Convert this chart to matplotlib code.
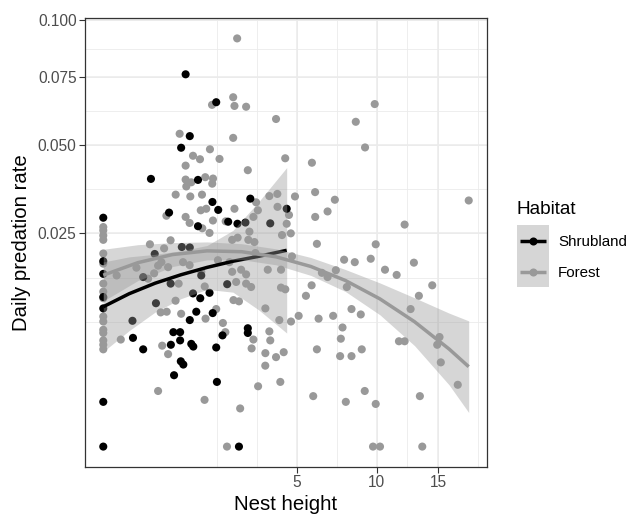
import numpy as np
import matplotlib
matplotlib.use("Agg")
import matplotlib.pyplot as plt
from matplotlib.lines import Line2D
from matplotlib.patches import Rectangle

plt.rcParams['font.family'] = ['Liberation Sans', 'DejaVu Sans']

# ---------------- data ----------------
shrub_x = [0.907, 1.706, 1.001, 0.811, 0.304, 1.200, 1.594, 1.767, 0.579, 2.892, 4.500, 0, 1.200,
           2.087, 2.408, 2.703, 3.729, 0.354, 0.825, 1.001, 0, 0, 0, 0, 0.213, 0.371, 0.607, 1.077,
           1.258, 1.284, 1.510, 2.054, 1.157, 1.602, 1.001, 0.114, 0.118, 0.213, 0.657, 0.790, 0.790,
           0.611, 1.036, 1.084, 0.804, 0.857, 0.670, 1.706, 1.727, 1.901, 2.794, 2.794, 0, 0, 2.462]
shrub_y = [0.0762, 0.0652, 0.0530, 0.0491, 0.0394, 0.0391, 0.0329, 0.0308, 0.0301, 0.0338, 0.0311,
           0.0288, 0.0267, 0.0278, 0.0273, 0.0276, 0.0274, 0.0204, 0.0219, 0.0218, 0.0189, 0.0164,
           0.0123, 0.0105, 0.0158, 0.0113, 0.0146, 0.0129, 0.0121, 0.0161, 0.0130, 0.0145, 0.0100,
           0.0098, 0.0088, 0.0087, 0.0065, 0.0052, 0.0072, 0.0072, 0.0062, 0.0057, 0.0058, 0.0055,
           0.0040, 0.0037, 0.0028, 0.0054, 0.0023, 0.0068, 0.0077, 0.0071, 0.0011, 0.0, 0.0]

forest_x = [2.397, 1.582, 2.257, 2.302, 2.729, 3.992, 0.780, 2.257, 1.522, 1.077, 1.251, 1.807, 4.427,
            5.822, 0.907, 2.794, 1.391, 1.611, 0.907, 1.036, 1.588, 0.922, 0.701, 1.013, 1.303, 3.689,
            4.052, 4.915, 6.002, 3.124, 1.271, 1.418, 0.533, 2.302, 3.197, 4.061, 4.613, 6.007, 1.311,
            1.608, 1.510, 2.004, 3.014, 2.857, 4.273, 4.703, 4.500, 0.291, 0.495, 0.606, 2.222, 2.415,
            2.814, 3.055, 6.104, 6.729, 7.172,
            9.855, 8.528, 9.165, 17.863, 12.146, 9.928, 7.758, 8.460, 9.568, 12.905, 7.234, 10.615,
            11.512, 6.392, 6.729, 5.806, 5.493, 7.932, 14.474, 13.322, 5.106, 6.201, 7.068, 8.241,
            8.868, 12.633, 7.656, 7.548, 6.104, 7.503, 8.241, 8.936, 11.693, 12.146, 15.121, 14.916,
            15.238, 16.807, 5.895, 7.868, 9.144, 9.928, 13.407, 9.732, 10.242, 13.610,
            0, 0, 0, 0, 0, 0, 0, 0, 0, 0, 0, 0, 0, 0, 0, 0,
            0.024, 0.147, 0.269, 0.346, 0.402, 0.441, 0.538, 0.699, 0.811, 0.041, 0.464, 0.562, 0.402,
            0.452, 0.562, 0.760, 0.851, 0.997, 1.284, 1.377, 1.399, 1.706, 1.372, 1.914, 1.994, 2.267,
            2.462, 2.047, 2.506, 3.014, 2.943, 3.514, 3.689, 3.729, 3.514, 3.992, 4.354, 3.510, 3.206,
            4.192, 4.145, 4.713, 4.225, 4.432, 2.729, 2.923, 2.362, 3.619, 4.225, 4.763, 2.222, 2.542,
            2.729, 3.095, 2.130, 1.758, 0.907, 0.997]
forest_y = [0.0916, 0.0642, 0.0671, 0.0638, 0.0635, 0.0590, 0.0538, 0.0524, 0.0486, 0.0465, 0.0454,
            0.0455, 0.0457, 0.0443, 0.0434, 0.0420, 0.0399, 0.0395, 0.0392, 0.0384, 0.0380, 0.0372,
            0.0349, 0.0344, 0.0349, 0.0345, 0.0351, 0.0344, 0.0356, 0.0328, 0.0307, 0.0311, 0.0293,
            0.0311, 0.0307, 0.0316, 0.0295, 0.0290, 0.0262, 0.0281, 0.0251, 0.0279, 0.0290, 0.0254,
            0.0246, 0.0250, 0.0273, 0.0225, 0.0216, 0.0234, 0.0235, 0.0240, 0.0235, 0.0230, 0.0226,
            0.0304, 0.0335,
            0.0645, 0.0580, 0.0492, 0.0333, 0.0271, 0.0225, 0.0192, 0.0187, 0.0194, 0.0186, 0.0171,
            0.0172, 0.0162, 0.0166, 0.0158, 0.0143, 0.0125, 0.0140, 0.0143, 0.0125, 0.0094, 0.0090,
            0.0094, 0.0104, 0.0096, 0.0104, 0.0078, 0.0064, 0.0052, 0.0045, 0.0045, 0.0052, 0.0061,
            0.0061, 0.0066, 0.0057, 0.0039, 0.0021, 0.0014, 0.0011, 0.0017, 0.0010, 0.0014, 0.0, 0.0, 0.0,
            0.0265, 0.0257, 0.0245, 0.0235, 0.0205, 0.0184, 0.0146, 0.0132, 0.0121, 0.0093, 0.0086,
            0.0075, 0.0071, 0.0062, 0.0057, 0.0052,
            0.0161, 0.0176, 0.0155, 0.0165, 0.0180, 0.0099, 0.0100, 0.0117, 0.0097, 0.0063, 0.0056,
            0.0047, 0.0017, 0.0187, 0.0177, 0.0146, 0.0187, 0.0181, 0.0168, 0.0141, 0.0090, 0.0104,
            0.0012, 0.0084, 0.0072, 0.0118, 0.0116, 0.0, 0.0008, 0.0063, 0.0053, 0.0105, 0.0073,
            0.0062, 0.0048, 0.0044, 0.0049, 0.0036, 0.0020, 0.0023, 0.0088, 0.0086, 0.0139, 0.0136,
            0.0146, 0.0140, 0.0149, 0.0172, 0.0172, 0.0199, 0.0168, 0.0172, 0.0163, 0.0206, 0.0187,
            0.0191, 0.0290, 0.0275]

# fitted smooth curves
shrub_fit_x = [0, 0.09, 0.36, 0.81, 1.44, 2.25, 3.24, 4.5]
shrub_fit_y = [0.01075, 0.01285, 0.01468, 0.01624, 0.01765, 0.01889, 0.01991, 0.02118]
shrub_fit_lo = [0.00496, 0.00740, 0.00995, 0.01204, 0.01359, 0.01311, 0.01025, 0.00709]
shrub_fit_hi = [0.01874, 0.01979, 0.02033, 0.02108, 0.02223, 0.02570, 0.03303, 0.04280]

forest_fit_x = [0, 0.16, 0.64, 1.44, 2.56, 4.0, 5.76, 7.84, 10.24, 12.96, 16.0, 17.86]
forest_fit_y = [0.01615, 0.01860, 0.02027, 0.02106, 0.02088, 0.01979, 0.01784, 0.01517, 0.01199,
                0.00857, 0.00523, 0.00351]
forest_fit_lo = [0.01164, 0.01515, 0.01782, 0.01917, 0.01921, 0.01816, 0.01611, 0.01323, 0.00954,
                 0.00560, 0.00209, 0.00064]
forest_fit_hi = [0.02140, 0.02241, 0.02287, 0.02303, 0.02263, 0.02149, 0.01966, 0.01724, 0.01472,
                 0.01217, 0.00979, 0.00869]

habitats = ["Shrubland", "Forest"]
x_breaks = [5, 10, 15]
x_labels = ["5", "10", "15"]
y_breaks = [0.025, 0.050, 0.075, 0.100]
y_labels = ["0.025", "0.050", "0.075", "0.100"]

# ---------------- styling ----------------
col_shrub = "#000000"
col_forest = "#999999"
group_cols = [col_shrub, col_forest]
ribbon_col = "#999999"
ribbon_alpha = 0.4
key_fill = "#d6d6d6"
grid_col = "#ebebeb"


def fwd(v):
    v = np.asarray(v, dtype=float)
    return np.sign(v) * np.sqrt(np.abs(v))


def inv(v):
    v = np.asarray(v, dtype=float)
    return np.sign(v) * v ** 2


W, H = 630, 514
fig = plt.figure(figsize=(W / 100, H / 100), dpi=100)
ax = fig.add_axes([85 / W, 1 - 467 / H, (487 - 85) / W, (467 - 18) / H])
ax.set_xscale('function', functions=(fwd, inv))
ax.set_yscale('function', functions=(fwd, inv))

# limits like ggplot (5% expansion in transformed space)
all_x = fwd(np.concatenate([shrub_x, forest_x]))
all_y = fwd(np.concatenate([shrub_y, forest_y]))
ex = 0.05 * (all_x.max() - all_x.min())
ey = 0.05 * (all_y.max() - all_y.min())
ax.set_xlim(inv(all_x.min() - ex), inv(all_x.max() + ex))
ax.set_ylim(inv(all_y.min() - ey), inv(all_y.max() + ey))


def minor_breaks(breaks, lim):
    b = fwd(breaks)
    bd = b[1] - b[0]
    lo, hi = fwd(lim[0]), fwd(lim[1])
    if lo < b[0]:
        b = np.concatenate([[b[0] - bd], b])
    if hi > b[-1]:
        b = np.concatenate([b, [b[-1] + bd]])
    mids = (b[:-1] + b[1:]) / 2
    m = np.concatenate([mids, b])
    m = m[(m > lo) & (m < hi)]
    return inv(m)


xl = ax.get_xlim()
yl = ax.get_ylim()
for v in minor_breaks(x_breaks, xl):
    ax.axvline(v, color=grid_col, lw=0.6, zorder=0)
for v in minor_breaks(y_breaks, yl):
    ax.axhline(v, color=grid_col, lw=0.6, zorder=0)
for v in x_breaks:
    ax.axvline(v, color=grid_col, lw=1.1, zorder=0.5)
for v in y_breaks:
    ax.axhline(v, color=grid_col, lw=1.1, zorder=0.5)

ax.set_xticks(x_breaks)
ax.set_xticklabels(x_labels)
ax.set_yticks(y_breaks)
ax.set_yticklabels(y_labels)
ax.minorticks_off()
ax.tick_params(axis='both', length=4.3, width=0.8, color='#333333', labelcolor='#4d4d4d',
               labelsize=11.2, pad=1.8)
for s in ax.spines.values():
    s.set_color('#333333')
    s.set_linewidth(0.9)

# points
ms = 34
ax.scatter(forest_x, forest_y, s=ms, color=col_forest, edgecolors='none', zorder=2)
ax.scatter(shrub_x, shrub_y, s=ms, color=col_shrub, edgecolors='none', zorder=2)

# smooths (ribbon then line, per group)
ax.fill_between(shrub_fit_x, shrub_fit_lo, shrub_fit_hi, color=ribbon_col, alpha=ribbon_alpha,
                lw=0, zorder=3)
ax.plot(shrub_fit_x, shrub_fit_y, color=col_shrub, lw=2.5, zorder=3.1, solid_capstyle='butt')
ax.fill_between(forest_fit_x, forest_fit_lo, forest_fit_hi, color=ribbon_col, alpha=ribbon_alpha,
                lw=0, zorder=3.2)
ax.plot(forest_fit_x, forest_fit_y, color=col_forest, lw=2.5, zorder=3.3, solid_capstyle='butt')

ax.set_xlabel("Nest height", fontsize=14.7, color='black', labelpad=3)
ax.set_ylabel("Daily predation rate", fontsize=14.7, color='black', labelpad=5)

# legend (drawn in a pixel-coordinate overlay)
lax = fig.add_axes([0, 0, 1, 1], facecolor='none')
lax.set_xlim(0, W)
lax.set_ylim(H, 0)
lax.axis('off')
lax.text(517, 214, "Habitat", fontsize=13.7, ha='left', va='baseline', color='black')
key_x0, key_w, key_h, key_y0 = 516.5, 32, 31.2, 225
for i, (name, c) in enumerate(zip(habitats, group_cols)):
    y0 = key_y0 + i * key_h
    lax.add_patch(Rectangle((key_x0, y0), key_w, key_h, facecolor=key_fill, edgecolor='none'))
    yc = y0 + key_h / 2
    lax.add_line(Line2D([key_x0 + 3, key_x0 + key_w - 3], [yc, yc], color=c, lw=2.5,
                        solid_capstyle='butt'))
    lax.add_line(Line2D([key_x0 + key_w / 2], [yc], color=c, marker='o', ms=5.8, lw=0,
                        markeredgewidth=0))
    lax.text(558, yc, name, fontsize=10.9, ha='left', va='center_baseline', color='black')

fig.savefig("out.png", dpi=100)
